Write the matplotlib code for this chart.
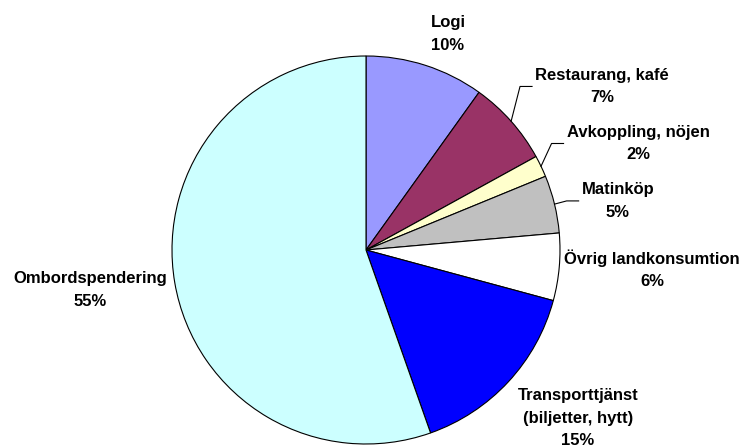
import numpy as np
import matplotlib
matplotlib.use('Agg')
import matplotlib.pyplot as plt

# Share of spending (%), clockwise from 12 o'clock
categories = ["Logi", "Restaurang, kafé", "Avkoppling, nöjen", "Matinköp",
              "Övrig landkonsumtion", "Transporttjänst\n(biljetter, hytt)", "Ombordspendering"]
values = [9.9, 7.1, 1.8, 4.8, 5.6, 15.4, 55.4]
colors = ["#9999FF", "#993366", "#FFFFCC", "#C0C0C0", "#FFFFFF", "#0000FF", "#CCFFFF"]

# label centres in pie-radius units, and whether a leader line is drawn
label_pos = [(0.423, 1.113), (1.216, 0.843), (1.402, 0.549), (1.299, 0.253),
             (1.474, -0.101), (1.093, -0.866), (-1.423, -0.206)]
leaders = [False, True, True, True, False, False, False]

plt.rcParams['font.family'] = ['Liberation Sans', 'DejaVu Sans']

R_PX = 194  # pie radius in pixels
fig = plt.figure(figsize=(7.43, 4.45), dpi=100)
ax = fig.add_axes([0, 0, 1, 1])

wedges, _ = ax.pie(values, colors=colors, startangle=90, counterclock=False,
                   radius=1.0, wedgeprops=dict(edgecolor="black", linewidth=0.8))

ax.set_xlim(-366 / R_PX, (743 - 366) / R_PX)
ax.set_ylim((250 - 445) / R_PX, 250 / R_PX)
ax.set_aspect("equal")
ax.axis("off")

texts = []
for name, v, (lx, ly) in zip(categories, values, label_pos):
    t = ax.text(lx, ly, f"{name}\n{v:.0f}%", ha="center", va="center",
                fontsize=12, fontweight="bold", linespacing=1.6)
    texts.append(t)

fig.canvas.draw()
renderer = fig.canvas.get_renderer()
inv = ax.transData.inverted()

for w, t, lead in zip(wedges, texts, leaders):
    if not lead:
        continue
    mid = np.deg2rad((w.theta1 + w.theta2) / 2)
    x0, y0 = np.cos(mid), np.sin(mid)
    bb = t.get_window_extent(renderer)
    left = inv.transform((bb.x0, bb.y0))[0]
    ly = t.get_position()[1]
    x2 = left - 3 / R_PX
    x1 = x2 - 12 / R_PX
    ax.plot([x0, x1, x2], [y0, ly, ly], color="black", lw=0.8)

fig.savefig("out.png", dpi=100)
